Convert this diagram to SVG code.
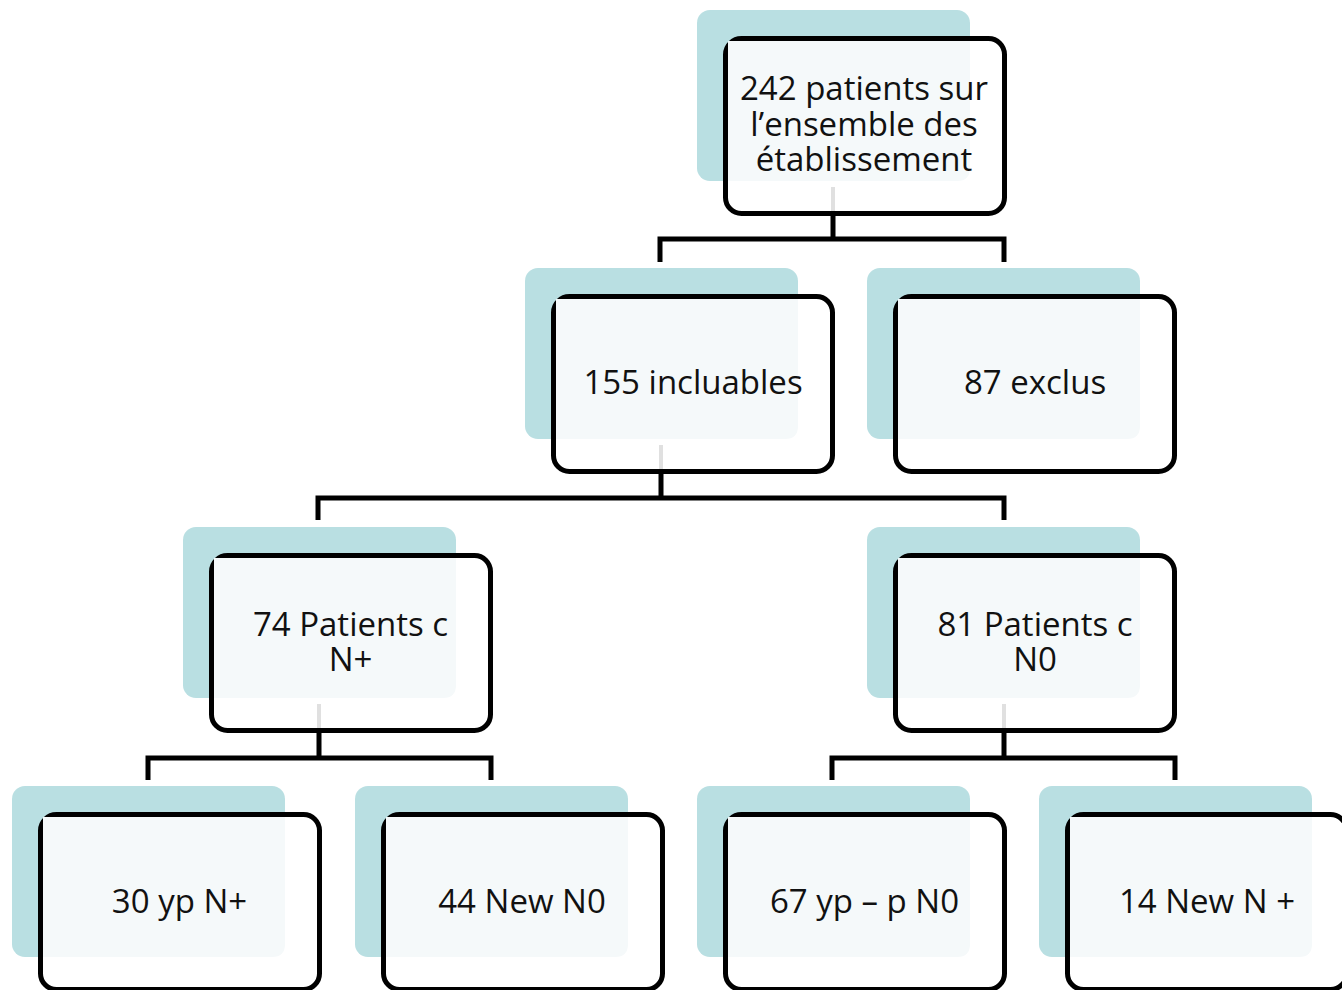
<svg xmlns="http://www.w3.org/2000/svg" width="1342" height="990" viewBox="0 0 1342 990">
<defs>
<style>
.teal{fill:#b9dfe2}
.box{fill:#ffffff;stroke:#000000;stroke-width:5}
.ov{fill:#f5f9fa}
.gl{stroke:#e0e0e0;stroke-width:4;fill:none}
.con{stroke:#000000;stroke-width:5;fill:none;stroke-linejoin:miter;stroke-linecap:butt}
.t{font-family:"Open Sans","DejaVu Sans",sans-serif;font-size:33px;fill:#111111;text-anchor:middle}
</style>
</defs>
<rect width="1342" height="990" fill="#ffffff"/>
<g id="connectors">
<path class="con" d="M833 213 V239 M660 262 V239 H1004 V262"/>
<path class="con" d="M661 472 V498 M318 520 V498 H1004 V520"/>
<path class="con" d="M319 731 V758 M148 780 V758 H491 V780"/>
<path class="con" d="M1004 731 V758 M832 780 V758 H1175 V780"/>
</g>
<g id="n242" transform="translate(697,10)">
<rect class="teal" x="0" y="0" width="273" height="171" rx="13"/>
<rect class="box" x="28.5" y="28.5" width="279" height="175" rx="16"/>
<path class="ov" d="M31 31 H273 V158 Q273 171 260 171 H31 Z"/>
<line class="gl" x1="136" y1="177" x2="136" y2="201"/>
<text class="t" x="167" y="90">242 patients sur</text>
<text class="t" x="167" y="125.5">l’ensemble des</text>
<text class="t" x="167" y="161">établissement</text>
</g>
<g id="n155" transform="translate(525,268)">
<rect class="teal" x="0" y="0" width="273" height="171" rx="13"/>
<rect class="box" x="28.5" y="28.5" width="279" height="175" rx="16"/>
<path class="ov" d="M31 31 H273 V158 Q273 171 260 171 H31 Z"/>
<line class="gl" x1="136" y1="177" x2="136" y2="201"/>
<text class="t" x="168" y="126">155 incluables</text>
</g>
<g id="n87" transform="translate(867,268)">
<rect class="teal" x="0" y="0" width="273" height="171" rx="13"/>
<rect class="box" x="28.5" y="28.5" width="279" height="175" rx="16"/>
<path class="ov" d="M31 31 H273 V158 Q273 171 260 171 H31 Z"/>
<text class="t" x="168" y="126">87 exclus</text>
</g>
<g id="n74" transform="translate(183,527)">
<rect class="teal" x="0" y="0" width="273" height="171" rx="13"/>
<rect class="box" x="28.5" y="28.5" width="279" height="175" rx="16"/>
<path class="ov" d="M31 31 H273 V158 Q273 171 260 171 H31 Z"/>
<line class="gl" x1="136" y1="177" x2="136" y2="201"/>
<text class="t" x="167.5" y="108.5">74 Patients c</text>
<text class="t" x="167.5" y="144">N+</text>
</g>
<g id="n81" transform="translate(867,527)">
<rect class="teal" x="0" y="0" width="273" height="171" rx="13"/>
<rect class="box" x="28.5" y="28.5" width="279" height="175" rx="16"/>
<path class="ov" d="M31 31 H273 V158 Q273 171 260 171 H31 Z"/>
<line class="gl" x1="137" y1="177" x2="137" y2="201"/>
<text class="t" x="168" y="108.5">81 Patients c</text>
<text class="t" x="168" y="144">N0</text>
</g>
<g id="n30" transform="translate(12,786)">
<rect class="teal" x="0" y="0" width="273" height="171" rx="13"/>
<rect class="box" x="28.5" y="28.5" width="279" height="175" rx="16"/>
<path class="ov" d="M31 31 H273 V158 Q273 171 260 171 H31 Z"/>
<text class="t" x="167.5" y="127">30 yp N+</text>
</g>
<g id="n44" transform="translate(355,786)">
<rect class="teal" x="0" y="0" width="273" height="171" rx="13"/>
<rect class="box" x="28.5" y="28.5" width="279" height="175" rx="16"/>
<path class="ov" d="M31 31 H273 V158 Q273 171 260 171 H31 Z"/>
<text class="t" x="167" y="127">44 New N0</text>
</g>
<g id="n67" transform="translate(697,786)">
<rect class="teal" x="0" y="0" width="273" height="171" rx="13"/>
<rect class="box" x="28.5" y="28.5" width="279" height="175" rx="16"/>
<path class="ov" d="M31 31 H273 V158 Q273 171 260 171 H31 Z"/>
<text class="t" x="167.5" y="127">67 yp – p N0</text>
</g>
<g id="n14" transform="translate(1039,786)">
<rect class="teal" x="0" y="0" width="273" height="171" rx="13"/>
<rect class="box" x="28.5" y="28.5" width="279" height="175" rx="16"/>
<path class="ov" d="M31 31 H273 V158 Q273 171 260 171 H31 Z"/>
<text class="t" x="168" y="127">14 New N +</text>
</g>
</svg>
